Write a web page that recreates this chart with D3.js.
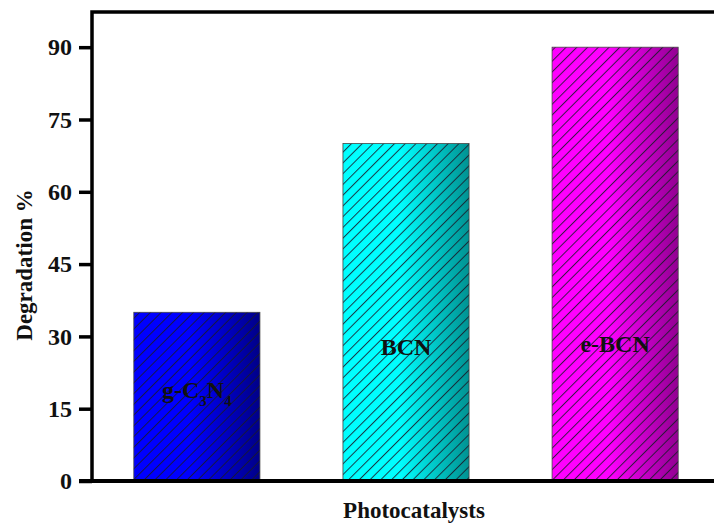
<!DOCTYPE html>
<html>
<head>
<meta charset="UTF-8">
<script src="https://cdn.jsdelivr.net/npm/d3@7"></script>
<style>
  body { margin: 0; background: #fff; }
  text { font-family: "Liberation Serif", "Times New Roman", serif; font-weight: bold; }
</style>
</head>
<body>
<script>
// data
var catalysts = ["g-C3N4", "BCN", "e-BCN"];
var degradation = [35, 70, 90];
var yTicks = [0, 15, 30, 45, 60, 75, 90];
var barColors = [["#0000ff", "#000088"], ["#00ffff", "#009292"], ["#ff00ff", "#920092"]];
// heights (in % units) where the name sits inside each bar
var labelAt = [17.2, 26.1, 26.7];

var width = 714, height = 526;
var margin = { left: 92, top: 12, bottom: 45 };
var plotRight = 720;

var svg = d3.select("body").append("svg")
    .attr("width", width)
    .attr("height", height);

var defs = svg.append("defs");

var x = d3.scaleBand()
    .domain(catalysts)
    .range([margin.left, plotRight])
    .paddingInner(0.397)
    .paddingOuter(0.2);

var y = d3.scaleLinear()
    .domain([0, 97.3])
    .range([height - margin.bottom, margin.top]);

// gradients, one per bar
catalysts.forEach(function (c, i) {
    var g = defs.append("linearGradient")
        .attr("id", "grad" + i)
        .attr("x1", 0).attr("x2", 1).attr("y1", 0).attr("y2", 0);
    g.append("stop").attr("offset", "0%").attr("stop-color", barColors[i][0]);
    g.append("stop").attr("offset", "45%").attr("stop-color", barColors[i][0]);
    g.append("stop").attr("offset", "100%").attr("stop-color", barColors[i][1]);
});

// diagonal hatch ("/"), rotated vertical lines
var pat = defs.append("pattern")
    .attr("id", "hatch")
    .attr("patternUnits", "userSpaceOnUse")
    .attr("width", 7.6).attr("height", 10)
    .attr("patternTransform", "rotate(45)");
pat.append("line")
    .attr("x1", 0.5).attr("x2", 0.5)
    .attr("y1", 0).attr("y2", 10)
    .attr("stroke", "#1a1a2a")
    .attr("stroke-width", 1)
    .attr("stroke-opacity", 0.85);

var bars = svg.append("g").selectAll("g")
    .data(catalysts)
    .enter().append("g");

bars.append("rect")
    .attr("x", function (d) { return x(d); })
    .attr("y", function (d, i) { return y(degradation[i]); })
    .attr("width", x.bandwidth())
    .attr("height", function (d, i) { return y(0) - y(degradation[i]); })
    .attr("fill", function (d, i) { return "url(#grad" + i + ")"; });

bars.append("rect")
    .attr("x", function (d) { return x(d); })
    .attr("y", function (d, i) { return y(degradation[i]); })
    .attr("width", x.bandwidth())
    .attr("height", function (d, i) { return y(0) - y(degradation[i]); })
    .attr("fill", "url(#hatch)")
    .attr("stroke", "#444")
    .attr("stroke-width", 0.8);

// bar names
bars.append("text")
    .attr("x", function (d) { return x(d) + x.bandwidth() / 2; })
    .attr("y", function (d, i) { return y(labelAt[i]); })
    .attr("text-anchor", "middle")
    .attr("font-size", 24)
    .attr("fill", "#111")
    .each(function (d) {
        var t = d3.select(this);
        var m = d.match(/^(.*?C)(\d)(N)(\d)$/);
        if (m) {
            t.append("tspan").text("g-C");
            t.append("tspan").attr("dy", 8).attr("font-size", 15).text(m[2]);
            t.append("tspan").attr("dy", -8).text("N");
            t.append("tspan").attr("dy", 8).attr("font-size", 15).text(m[4]);
        } else {
            t.text(d);
        }
    });

// y axis
var yAxis = d3.axisLeft(y)
    .tickValues(yTicks)
    .tickSize(13)
    .tickPadding(7);

var gy = svg.append("g")
    .attr("transform", "translate(" + margin.left + ",0)")
    .call(yAxis);
gy.select(".domain").remove();
gy.selectAll(".tick line").attr("stroke", "#000").attr("stroke-width", 3.5);
gy.selectAll(".tick text")
    .attr("font-size", 24)
    .attr("font-family", "Liberation Serif, serif")
    .attr("font-weight", "bold")
    .attr("fill", "#111");

// frame: left, top, bottom
svg.append("path")
    .attr("d", "M" + margin.left + "," + y(0) + "V" + margin.top + "H" + (width + 5))
    .attr("fill", "none")
    .attr("stroke", "#000")
    .attr("stroke-width", 3.5);

svg.append("line")
    .attr("x1", margin.left - 13).attr("x2", width + 5)
    .attr("y1", y(0)).attr("y2", y(0))
    .attr("stroke", "#000")
    .attr("stroke-width", 4);

// titles
svg.append("text")
    .attr("transform", "translate(32,265) rotate(-90)")
    .attr("text-anchor", "middle")
    .attr("font-size", 23)
    .attr("fill", "#111")
    .text("Degradation %");

svg.append("text")
    .attr("x", 414)
    .attr("y", 518)
    .attr("text-anchor", "middle")
    .attr("font-size", 23)
    .attr("fill", "#111")
    .text("Photocatalysts");
</script>
</body>
</html>
